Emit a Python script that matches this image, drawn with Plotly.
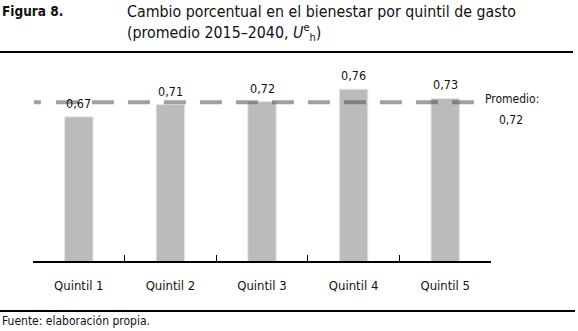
import plotly.graph_objects as go

categories = ["Quintil 1", "Quintil 2", "Quintil 3", "Quintil 4", "Quintil 5"]
values = [0.67, 0.71, 0.72, 0.76, 0.73]
mean_value = 0.718
mean_label = "0,72"

FONT = "Liberation Sans Narrow, DejaVu Sans Condensed, Liberation Sans, sans-serif"

def fmt(v):
    return f"{v:.2f}".replace(".", ",")

fig = go.Figure()
fig.add_trace(go.Bar(
    x=categories, y=values,
    marker=dict(color="#bbbbbb", line=dict(color="#e4e4e4", width=1)),
    hoverinfo="skip",
))

for c, v in zip(categories, values):
    fig.add_annotation(x=c, y=v, text=fmt(v), showarrow=False, yanchor="bottom",
                       yshift=4, font=dict(family=FONT, size=12.5, color="#111"))

# dashed mean line
pattern = ["7px", "15px"] + ["22px", "14px"] * 13
fig.add_shape(type="line", xref="paper", yref="y", x0=0.002, x1=0.976,
              y0=mean_value, y1=mean_value, layer="above",
              line=dict(color="rgba(80,80,80,0.55)", width=4, dash=",".join(pattern)))

fig.add_annotation(xref="paper", yref="y", x=1.0, y=mean_value, text="Promedio:",
                   showarrow=False, xanchor="left", xshift=-8, yshift=3,
                   font=dict(family=FONT, size=12, color="#111"))
fig.add_annotation(xref="paper", yref="y", x=1.0, y=mean_value, text=mean_label,
                   showarrow=False, xanchor="left", xshift=6, yshift=-18,
                   font=dict(family=FONT, size=12, color="#111"))

# titles
fig.add_annotation(xref="paper", yref="paper", x=-33/458, y=1 + (77 - 1) / 184,
                   text="<b>Figura 8.</b>", showarrow=False, xanchor="left", yanchor="top",
                   font=dict(family=FONT, size=13.5, color="#111"))
fig.add_annotation(xref="paper", yref="paper", x=(125 - 33) / 458, y=1 + (77 - 0) / 184,
                   text="Cambio porcentual en el bienestar por quintil de gasto<br>"
                        "(promedio 2015–2040, <i>U</i><sup>e</sup><sub>h</sub>)",
                   showarrow=False, xanchor="left", yanchor="top", align="left",
                   font=dict(family=FONT, size=15.8, color="#111"))
fig.add_annotation(xref="paper", yref="paper", x=-33/458, y=-(321 - 261) / 184,
                   text="Fuente: elaboración propia.", showarrow=False,
                   xanchor="left", yanchor="middle",
                   font=dict(family=FONT, size=12, color="#111"))

# rules
fig.add_shape(type="line", xref="paper", yref="paper", x0=-33/458, x1=(573 - 33) / 458,
              y0=1 + (77 - 52) / 184, y1=1 + (77 - 52) / 184,
              line=dict(color="#000", width=2))
fig.add_shape(type="line", xref="paper", yref="paper", x0=-33/458, x1=(575 - 33) / 458,
              y0=-(311 - 261) / 184, y1=-(311 - 261) / 184,
              line=dict(color="#000", width=2))

fig.update_layout(
    width=578, height=331,
    margin=dict(l=33, r=87, t=77, b=70),
    paper_bgcolor="white", plot_bgcolor="white",
    showlegend=False, bargap=0.69,
    font=dict(family=FONT, size=13, color="#111"),
)
fig.update_xaxes(showline=True, linecolor="#000", linewidth=1.5,
                 ticks="inside", tickson="boundaries", ticklen=6, tickcolor="#000",
                 tickwidth=1.2, ticklabelstandoff=12,
                 tickfont=dict(family=FONT, size=13, color="#111"), showgrid=False)
fig.update_yaxes(range=[0.2, 0.8], visible=False, showgrid=False)

fig.write_html("out.html", config={"displayModeBar": False},
               post_script="document.body.style.margin='0';document.body.style.overflow='hidden';")
